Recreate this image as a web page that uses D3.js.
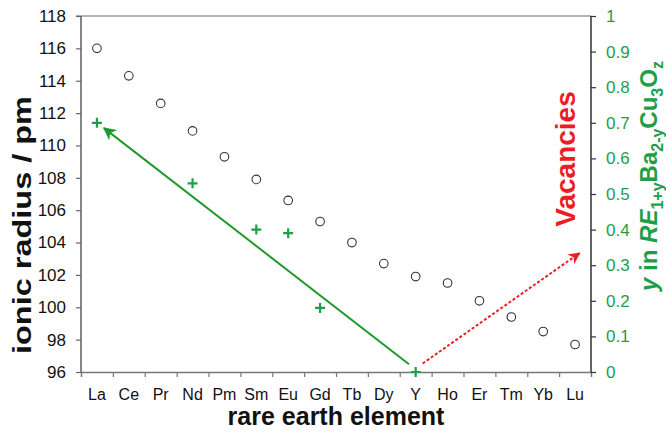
<!DOCTYPE html>
<html>
<head>
<meta charset="utf-8">
<script src="https://cdn.jsdelivr.net/npm/d3@7"></script>
<style>
  html, body { margin: 0; padding: 0; background: #fff; }
  svg { display: block; font-family: "Liberation Sans", Arial, sans-serif; }
</style>
</head>
<body>
<svg id="chart" width="666" height="432"></svg>
<script>
// ---- data ----
const elements = ["La","Ce","Pr","Nd","Pm","Sm","Eu","Gd","Tb","Dy","Y","Ho","Er","Tm","Yb","Lu"];
const ionicRadius = [116.0,114.3,112.6,110.9,109.3,107.9,106.6,105.3,104.0,102.7,101.9,101.5,100.4,99.4,98.5,97.7];
const yElements = ["La","Nd","Sm","Eu","Gd","Y"];
const yValues = [0.70,0.53,0.40,0.39,0.18,0.0];
const leftTicks = [96,98,100,102,104,106,108,110,112,114,116,118];
const rightTicks = [0,0.1,0.2,0.3,0.4,0.5,0.6,0.7,0.8,0.9,1];
// arrows in data units: [category position, y (right axis)]
const greenArrow = [[9.79, 0.022], [0.22, 0.685]];
const redArrow = [[10.22, 0.024], [15.14, 0.334]];

// ---- layout ----
const W = 666, H = 432;
const m = {left: 81, right: 75, top: 16, bottom: 60};
const iw = W - m.left - m.right, ih = H - m.top - m.bottom;

const svg = d3.select("#chart");
const defs = svg.append("defs");
defs.append("marker").attr("id","ahG").attr("viewBox","0 0 10 10").attr("refX",9).attr("refY",5)
  .attr("markerWidth",13).attr("markerHeight",13).attr("markerUnits","userSpaceOnUse").attr("orient","auto")
  .append("path").attr("d","M0,0 L10,5 L0,10 L3,5 Z").attr("fill","#1f9a2a");
defs.append("marker").attr("id","ahR").attr("viewBox","0 0 10 10").attr("refX",9).attr("refY",5)
  .attr("markerWidth",12).attr("markerHeight",12).attr("markerUnits","userSpaceOnUse").attr("orient","auto")
  .append("path").attr("d","M0,0 L10,5 L0,10 L3,5 Z").attr("fill","#e8202a");

const g = svg.append("g").attr("transform", `translate(${m.left},${m.top})`);

const xBand = d3.scaleBand().domain(elements).range([0, iw]).padding(0);
const xPos = d3.scaleLinear().domain([-0.5, elements.length - 0.5]).range([0, iw]);
const yL = d3.scaleLinear().domain([96,118]).range([ih, 0]);
const yR = d3.scaleLinear().domain([0,1]).range([ih, 0]);

const green = "#1f9e4a";

// top border
g.append("line").attr("x1",-5).attr("x2",iw).attr("y1",0).attr("y2",0)
  .attr("stroke","#9a9a9a").attr("stroke-width",1.3);

// x axis: ticks at boundaries
const xTickAxis = d3.axisBottom(d3.scaleLinear().domain([0, elements.length]).range([0, iw]))
  .tickValues(d3.range(0, elements.length + 1)).tickSize(5).tickFormat("");
const gx = g.append("g").attr("transform", `translate(0,${ih})`).call(xTickAxis);
gx.select(".domain").attr("stroke","#777").attr("stroke-width",1.3);
gx.selectAll(".tick line").attr("stroke","#777").attr("stroke-width",1.2);

const xLabAxis = d3.axisBottom(xBand).tickSize(0).tickPadding(0);
const gxl = g.append("g").attr("transform", `translate(0,${ih})`).call(xLabAxis);
gxl.select(".domain").remove();
gxl.selectAll("text").attr("font-size",16).attr("fill","#111").attr("dy",null)
  .attr("y",28).attr("font-family","Liberation Sans, Arial, sans-serif");

// left axis
const gyl = g.append("g").call(d3.axisLeft(yL).tickValues(leftTicks).tickSize(5).tickPadding(10));
gyl.select(".domain").attr("stroke","#444").attr("stroke-width",1.3).attr("d", `M0,${ih}V0`);
gyl.selectAll(".tick line").attr("stroke","#666").attr("stroke-width",1.2);
gyl.selectAll("text").attr("font-size",17).attr("fill","#111").attr("font-family","Liberation Sans, Arial, sans-serif");

// right axis
const gyr = g.append("g").attr("transform", `translate(${iw},0)`)
  .call(d3.axisRight(yR).tickValues(rightTicks).tickSize(5).tickPadding(10).tickFormat(d3.format("~g")));
gyr.select(".domain").attr("stroke","#111").attr("stroke-width",1.3).attr("d", `M0,${ih}V0`);
gyr.selectAll(".tick line").attr("stroke","#333").attr("stroke-width",1.2);
gyr.selectAll("text").attr("font-size",17).attr("fill",green).attr("font-family","Liberation Sans, Arial, sans-serif");

// circles: ionic radius
g.append("g").selectAll("circle").data(elements).join("circle")
  .attr("cx", d => xBand(d) + xBand.bandwidth()/2)
  .attr("cy", (d,i) => yL(ionicRadius[i]))
  .attr("r", 4.3).attr("fill","none").attr("stroke","#333").attr("stroke-width",1.1);

// arrows
const line = d3.line().x(d => xPos(d[0])).y(d => yR(d[1]));
g.append("path").attr("d", line(greenArrow)).attr("stroke","#1f9a2a").attr("stroke-width",2)
  .attr("fill","none").attr("marker-end","url(#ahG)");
g.append("path").attr("d", line(redArrow)).attr("stroke","#e8202a").attr("stroke-width",2)
  .attr("stroke-dasharray","3,2").attr("fill","none").attr("marker-end","url(#ahR)");

// plus markers
const plusSize = 5;
g.append("g").selectAll("path").data(yElements).join("path")
  .attr("d", (d,i) => {
    const cx = xBand(d) + xBand.bandwidth()/2, cy = yR(yValues[i]);
    return `M${cx-plusSize},${cy}H${cx+plusSize}M${cx},${cy-plusSize}V${cy+plusSize}`;
  })
  .attr("stroke", green).attr("stroke-width", 2.2).attr("fill","none");

// axis titles
svg.append("text").attr("x", m.left + iw/2 - 0).attr("y", 425)
  .attr("text-anchor","middle").attr("font-size",25).attr("font-weight","bold").attr("fill","#111")
  .text("rare earth element");

svg.append("text").attr("transform","translate(31,225) rotate(-90)")
  .attr("text-anchor","middle").attr("font-size",25).attr("font-weight","bold").attr("fill","#111")
  .attr("textLength",258).attr("lengthAdjust","spacingAndGlyphs")
  .text("ionic radius / pm");

svg.append("text").attr("transform","translate(575,159) rotate(-90)")
  .attr("text-anchor","middle").attr("font-size",28).attr("font-weight","bold").attr("fill","#ee1c24")
  .text("Vacancies");

const rl = svg.append("text").attr("transform","translate(657,176) rotate(-90)")
  .attr("text-anchor","middle").attr("font-size",24).attr("font-weight","bold").attr("fill",green);
rl.append("tspan").attr("font-style","italic").text("y");
rl.append("tspan").text(" in ");
rl.append("tspan").attr("font-style","italic").text("RE");
rl.append("tspan").attr("font-size",16).attr("dy",6).text("1+y");
rl.append("tspan").attr("dy",-6).text("Ba");
rl.append("tspan").attr("font-size",16).attr("dy",6).text("2-y");
rl.append("tspan").attr("dy",-6).text("Cu");
rl.append("tspan").attr("font-size",16).attr("dy",6).text("3");
rl.append("tspan").attr("dy",-6).text("O");
rl.append("tspan").attr("font-size",16).attr("dy",6).text("z");
</script>
</body>
</html>
